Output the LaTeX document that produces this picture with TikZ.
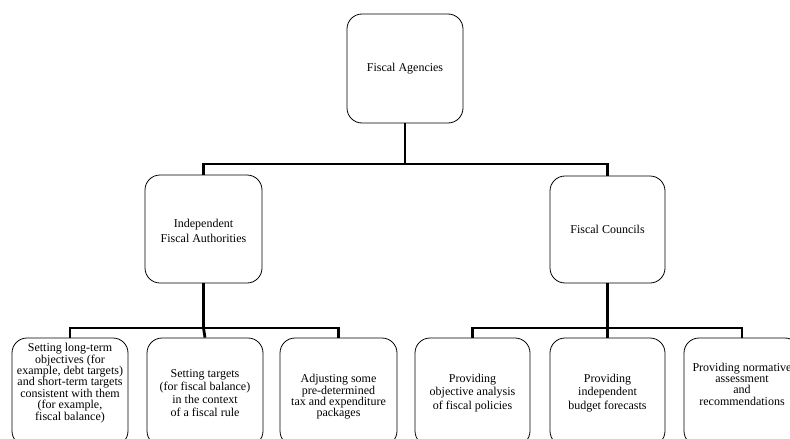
\documentclass[tikz,border=0pt]{standalone}
\usepackage{fontspec}
\setmainfont{Liberation Serif}
\begin{document}
\begin{tikzpicture}[x=1pt,y=-1pt,
  box/.style={draw, line width=0.8pt, rounded corners=15pt, inner sep=0pt},
  txt/.style={align=center, inner sep=0pt, font=\fontsize{12}{11.4}\selectfont},
  wide/.style={font=\fontsize{12}{13.2}\selectfont},
  conn/.style={line width=2.8pt}]
\clip (0,0) rectangle (790,439);
\fill[white] (0,0) rectangle (790,439);
% boxes
\node[box, minimum width=116pt, minimum height=109pt] (top) at (405,68.5) {};
\node[txt] (ttop) at (top.center) {Fiscal Agencies};
\node[box, minimum width=117pt, minimum height=108pt] (ifa) at (203.5,229) {};
\node[txt, font=\fontsize{12}{15.6}\selectfont] (tifa) at (203.5,231) {Independent\\Fiscal Authorities};
\node[box, minimum width=115pt, minimum height=107pt] (fc) at (607.5,229.5) {};
\node[txt] (tfc) at (fc.center) {Fiscal Councils};
% bottom boxes
\node[box, minimum width=116pt, minimum height=108pt] (b1) at (70,392) {};
\node[box, minimum width=116pt, minimum height=108pt] (b2) at (205,392) {};
\node[box, minimum width=117pt, minimum height=108pt] (b3) at (338.5,392) {};
\node[box, minimum width=115pt, minimum height=108pt] (b4) at (472.5,392) {};
\node[box, minimum width=115pt, minimum height=108pt] (b5) at (607.5,392) {};
\node[box, minimum width=116pt, minimum height=108pt] (b6) at (742,392) {};
\node[txt] (t1) at (70,383) {Setting long-term\\objectives (for\\example, debt targets)\\and short-term targets\\consistent with them\\(for example,\\fiscal balance)};
\node[txt, wide] (t2) at (205,393) {Setting targets\\(for fiscal balance)\\in the context\\of a fiscal rule};
\node[txt] (t3) at (338.5,397) {Adjusting some\\pre-determined\\tax and expenditure\\packages};
\node[txt, wide] (t4) at (472.5,393) {Providing\\objective analysis\\of fiscal policies};
\node[txt, wide] (t5) at (607.5,393) {Providing\\independent\\budget forecasts};
\node[txt] (t6) at (742,384) {Providing normative\\assessment\\and\\recommendations};
% connectors
\coordinate (j1) at (405,164);
\coordinate (j2) at (203.5,328);
\coordinate (j3) at (607.5,328);
\draw[conn] (top.south) -- (j1);
\draw[conn] (ifa.north) |- (j1) -| (fc.north);
\draw[conn] (ifa.south) -- (j2);
\draw[conn] (b1.north) |- (j2) -| (b3.north);
\draw[conn] (j2) -- (b2.north);
\draw[conn] (fc.south) -- (j3);
\draw[conn] (b4.north) |- (j3) -| (b6.north);
\draw[conn] (j3) -- (b5.north);
\end{tikzpicture}
\end{document}
